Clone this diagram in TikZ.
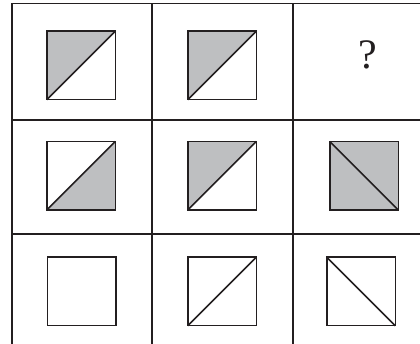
\documentclass[tikz,border=0pt]{standalone}
\usepackage{fontspec}
\setmainfont{Liberation Serif}
\usetikzlibrary{backgrounds}
\definecolor{shade}{RGB}{190,191,193}
\definecolor{ink}{RGB}{35,31,32}
\begin{document}
\begin{tikzpicture}[x=1pt,y=-1pt,
  gridline/.style={draw=ink,line width=1.1pt},
  sq/.style={draw=ink,line width=1.5pt,minimum size=68.5pt,inner sep=0pt,outer sep=0pt},
  diag/.style={draw=ink,line width=1.5pt},
  tri/.style={fill=shade}]
\useasboundingbox (0,0) rectangle (420,344);
% grid
\coordinate (tl) at (12,3.5);
\coordinate (tr) at (420,3.5);
\coordinate (bl) at (12,344);
\coordinate (v1t) at (152,3.5);
\coordinate (v1b) at (152,344);
\coordinate (v2t) at (293,3.5);
\coordinate (v2b) at (293,344);
\coordinate (h1l) at (12,120);
\coordinate (h1r) at (420,120);
\coordinate (h2l) at (12,234);
\coordinate (h2r) at (420,234);
\draw[gridline,line width=1.8pt] (tl) -- (tr);
\draw[gridline] (tl) -- (bl);
\draw[gridline] (v1t) -- (v1b);
\draw[gridline] (v2t) -- (v2b);
\draw[gridline] (h1l) -- (h1r);
\draw[gridline] (h2l) -- (h2r);
% squares
\node[sq] (s11) at (81,65.5) {};
\node[sq] (s12) at (222,65.5) {};
\node[font=\fontsize{42}{42}\selectfont,inner sep=0pt,text=ink] (q) at (368,54.5) {?};
\node[sq] (s21) at (81,175.75) {};
\node[sq] (s22) at (222,175.75) {};
\node[sq] (s23) at (364,175.75) {};
\node[sq] (s31) at (81.5,291.5) {};
\node[sq] (s32) at (222,291.5) {};
\node[sq] (s33) at (361,291.5) {};
\begin{scope}[on background layer]
\fill[tri] (s11.south west) -- (s11.north west) -- (s11.north east) -- cycle;
\fill[tri] (s12.south west) -- (s12.north west) -- (s12.north east) -- cycle;
\fill[tri] (s21.south west) -- (s21.south east) -- (s21.north east) -- cycle;
\fill[tri] (s22.south west) -- (s22.north west) -- (s22.north east) -- cycle;
\fill[tri] (s23.south west) rectangle (s23.north east);
\end{scope}
\draw[diag] (s11.south west) -- (s11.north east);
\draw[diag] (s12.south west) -- (s12.north east);
\draw[diag] (s21.south west) -- (s21.north east);
\draw[diag] (s22.south west) -- (s22.north east);
\draw[diag] (s23.north west) -- (s23.south east);
\draw[diag] (s32.south west) -- (s32.north east);
\draw[diag] (s33.north west) -- (s33.south east);
\end{tikzpicture}
\end{document}
